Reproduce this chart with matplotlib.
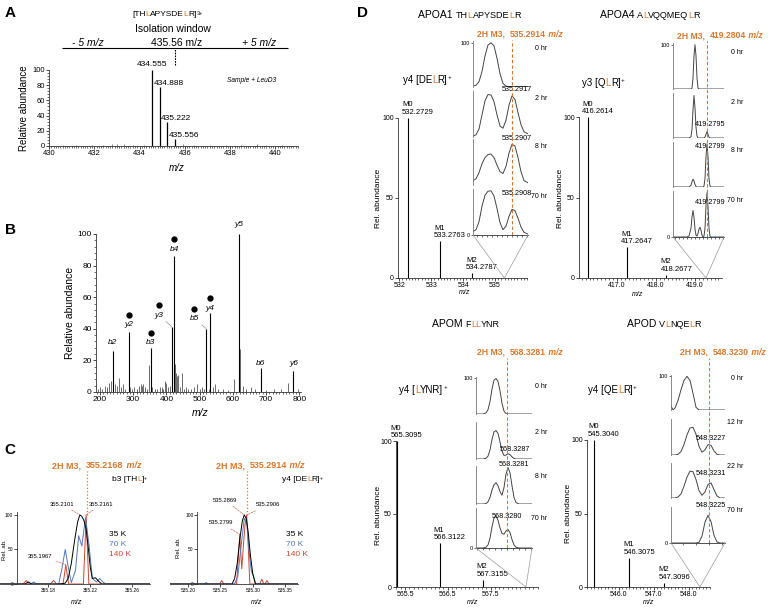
import matplotlib
matplotlib.use('Agg')
import matplotlib.pyplot as plt
from matplotlib.ticker import MultipleLocator, FixedLocator, FormatStrFormatter, NullFormatter
from matplotlib.patches import ConnectionPatch
from matplotlib.transforms import offset_copy, blended_transform_factory

plt.rcParams['font.family'] = ['Liberation Sans', 'DejaVu Sans']
plt.rcParams['axes.linewidth'] = 0.6
plt.rcParams['axes.edgecolor'] = '#333333'

ORANGE = '#d9782d'
BLUE = '#4f78bd'
RED = '#d0452f'
GREY = '#555555'

# ---------------- data ----------------
# A: precursor cluster inside the isolation window
iso_center = 435.56
a_mz = [434.555, 434.888, 435.222, 435.556]
a_int = [100, 78, 32, 9]
a_noise_mz = [430.6, 431.2, 431.9, 432.4, 432.8, 433.0, 433.3, 433.7, 434.2,
              435.9, 436.4, 437.1, 437.8, 438.5, 439.2, 439.6, 440.3]
a_noise_int = [1, 1, 1, 1, 2, 3, 2, 1, 1, 2, 1, 1, 1, 1, 3, 1, 1]

# B: MS/MS spectrum
b_mz = [193, 200, 207, 214, 221, 227, 232, 244, 250, 257,
        262, 269, 276, 291, 296, 302, 311, 318, 322, 326,
        330, 334, 340, 347, 358, 366, 372, 380, 386, 390,
        395, 400, 406, 411, 425, 428, 431, 434, 440, 446,
        452, 460, 466, 474, 482, 491, 500, 506, 514, 527,
        540, 545, 556, 570, 585, 602, 621, 629, 638, 656,
        668, 700, 725, 746, 767, 795]
b_int = [2, 3, 2, 4, 3, 6, 7, 5, 4, 9,
         3, 5, 2, 3, 2, 3, 2, 4, 5, 4,
         5, 3, 2, 17, 3, 2, 2, 3, 3, 2,
         7, 6, 3, 4, 18, 12, 10, 11, 3, 12,
         2, 3, 2, 2, 3, 5, 2, 3, 2, 2,
         3, 5, 2, 2, 1, 8, 27, 4, 2, 3,
         2, 1, 2, 2, 6, 2]
ion_names = ['b2', 'y2', 'b3', 'y3', 'b4', 'b5', 'y4', 'y5', 'b6', 'y6']
ion_mz = [239.1, 288.2, 352.2, 417.2, 423.2, 520.3, 532.3, 619.3, 683.3, 782.4]
ion_int = [26, 38, 28, 41, 86, 40, 50, 100, 15, 13]
ion_dot = [False, True, True, True, True, True, True, False, False, False]

# C: b3 and y4 fragments at three resolutions
res_names = ['35 K', '70 K', '140 K']
c1_m3 = 355.2168
c1_black_x = [355.134, 355.158, 355.161, 355.164, 355.190, 355.196, 355.199, 355.202, 355.205,
              355.208, 355.2101, 355.212, 355.214, 355.216, 355.218, 355.220, 355.222, 355.225,
              355.228, 355.231, 355.277]
c1_black_y = [0, 0, 3, 0, 0, 1, 8, 30, 62, 90, 100, 98, 92, 80, 55, 25, 8, 9, 4, 0, 0]
c1_blue_x = [355.134, 355.163, 355.166, 355.169, 355.190, 355.193, 355.1962, 355.199, 355.202,
             355.206, 355.209, 355.212, 355.2155, 355.219, 355.222, 355.226, 355.229, 355.232,
             355.235, 355.277]
c1_blue_y = [0, 0, 3, 0, 0, 22, 50, 25, 2, 20, 70, 55, 96, 55, 8, 3, 8, 3, 0, 0]
c1_red_x = [355.134, 355.156, 355.159, 355.162, 355.182, 355.185, 355.188, 355.194, 355.1955,
            355.1967, 355.198, 355.1995, 355.2135, 355.215, 355.2161, 355.2172, 355.2187, 355.277]
c1_red_y = [0, 0, 5, 0, 0, 5, 0, 0, 14, 28, 14, 0, 0, 55, 100, 55, 0, 0]
c1_lab_mz = [355.2101, 355.2161, 355.1967]
c1_lab_h = [100, 100, 28]

c2_m3 = 535.2914
c2_black_x = [535.172, 535.268, 535.272, 535.276, 535.280, 535.284, 535.2869, 535.290, 535.293,
              535.296, 535.300, 535.304, 535.370]
c2_black_y = [0, 0, 8, 30, 65, 92, 100, 95, 75, 45, 15, 0, 0]
c2_blue_x = [535.172, 535.225, 535.228, 535.231, 535.272, 535.277, 535.282, 535.2869, 535.291,
             535.295, 535.298, 535.301, 535.305, 535.370]
c2_blue_y = [0, 0, 2, 0, 0, 12, 55, 95, 88, 40, 18, 12, 0, 0]
c2_red_x = [535.172, 535.249, 535.252, 535.255, 535.275, 535.2775, 535.2799, 535.2815, 535.283,
            535.2855, 535.288, 535.2906, 535.293, 535.2955, 535.311, 535.314, 535.317, 535.319,
            535.322, 535.325, 535.370]
c2_red_y = [0, 0, 5, 0, 0, 35, 72, 45, 22, 55, 85, 100, 55, 0, 0, 7, 0, 0, 5, 0, 0]
c2_lab_mz = [535.2869, 535.2906, 535.2799]
c2_lab_h = [100, 100, 72]

# D: four apolipoproteins, isotopes M0-M2 and the 2H M3 time course
a1_mz = [532.2729, 533.2763, 534.2787]
a1_int = [100, 23, 3]
a1_m3 = 535.2914
a1_grid = [-39, -36, -33, -30, -27, -24, -21, -18, -15, -12, -9, -6, -3, 0, 3, 6, 9, 12, 16]
a1_0 = [2, 4, 12, 35, 70, 95, 100, 93, 65, 30, 8, 2, 1, 1, 1, 1, 1, 1, 1]
a1_2 = [2, 5, 18, 50, 82, 96, 95, 80, 50, 25, 20, 38, 72, 93, 85, 55, 28, 12, 7]
a1_8 = [10, 14, 28, 48, 62, 69, 70, 62, 45, 30, 26, 42, 72, 92, 88, 62, 30, 10, 5]
a1_70 = [8, 12, 30, 65, 90, 99, 100, 88, 60, 28, 12, 20, 42, 58, 55, 38, 18, 6, 2]
a1_times = ['0 hr', '2 hr', '8 hr', '70 hr']
a1_peaks = ['535.2917', '535.2907', '535.2908']

a4_mz = [416.2614, 417.2647, 418.2677]
a4_int = [100, 19, 2]
a4_m3 = 419.2804
a4_grid = [-34, -20, -18, -16, -15, -14, -13, -12, -11, -10, -9, -8, -7, -6, -5, -4, -3, -2, -1,
           0, 1, 2, 3, 4, 6, 17]
a4_0 = [0, 0, 0, 0, 2, 25, 75, 100, 75, 25, 2, 0, 0, 0, 0, 0, 0, 0, 0, 0, 0, 0, 0, 0, 0, 0]
a4_2 = [0, 0, 0, 3, 20, 65, 98, 70, 25, 5, 0, 0, 0, 0, 0, 0, 0, 2, 8, 15, 8, 2, 0, 0, 0, 0]
a4_8 = [0, 0, 0, 4, 12, 18, 14, 6, 1, 0, 0, 0, 0, 0, 0, 0, 2, 20, 70, 100, 70, 20, 2, 0, 0, 0]
a4_70 = [0, 0, 2, 20, 45, 60, 45, 18, 4, 2, 8, 18, 22, 15, 4, 0, 2, 20, 70, 100, 70, 20, 2, 0, 0, 0]
a4_times = ['0 hr', '2 hr', '8 hr', '70 hr']
a4_peaks = ['419.2795', '419.2799', '419.2799']

am_mz = [565.3095, 566.3122, 567.3155]
am_int = [100, 30, 5]
am_m3 = 568.3281
am_grid = [-31, -24, -21, -19, -17, -15, -13, -11, -9, -7, -5, -3, -1, 1, 3, 5, 7, 9, 12, 25]
am_0 = [0, 0, 3, 12, 35, 70, 95, 100, 92, 65, 30, 8, 1, 0, 0, 0, 0, 0, 0, 0]
am_2 = [0, 0, 2, 8, 25, 55, 76, 80, 72, 48, 22, 10, 11, 15, 12, 6, 2, 0, 0, 0]
am_8 = [0, 0, 1, 6, 18, 38, 53, 58, 50, 34, 24, 45, 82, 100, 85, 50, 18, 4, 0, 0]
am_70 = [0, 0, 2, 8, 25, 55, 78, 85, 72, 52, 38, 36, 44, 48, 40, 22, 8, 2, 0, 0]
am_times = ['0 hr', '2 hr', '8 hr', '70 hr']
am_peaks = ['568.3287', '568.3281', '568.3280']

ad_mz = [545.3040, 546.3075, 547.3096]
ad_int = [100, 20, 3]
ad_m3 = 548.3230
ad_grid = [-38, -36, -34, -31, -28, -25, -22, -19, -16, -13, -10, -7, -4, -1, 2, 5, 8, 11, 16]
ad_0 = [12, 0, 6, 28, 60, 88, 100, 88, 50, 8, 0, 0, 0, 0, 0, 0, 0, 0, 0]
ad_12 = [0, 0, 0, 2, 10, 30, 58, 78, 80, 60, 25, 8, 15, 30, 28, 12, 2, 0, 0]
ad_22 = [0, 0, 0, 3, 12, 35, 62, 80, 78, 55, 22, 8, 18, 40, 45, 25, 6, 0, 0]
ad_70 = [0, 0, 0, 0, 0, 0, 0, 0, 0, 0, 2, 20, 60, 80, 62, 22, 3, 0, 0]
ad_times = ['0 hr', '12 hr', '22 hr', '70 hr']
ad_peaks = ['548.3227', '548.3231', '548.3225']

# ---------------- figure ----------------
W, H = 768, 609
fig = plt.figure(figsize=(W / 100, H / 100), dpi=100)

bg = fig.add_axes([0, 0, 1, 1], zorder=10)
bg.set_xlim(0, W)
bg.set_ylim(H, 0)
bg.axis('off')
bg.patch.set_visible(False)


def box(x0, y0, x1, y1):
    return [x0 / W, 1 - y1 / H, (x1 - x0) / W, (y1 - y0) / H]


def clean(ax, fs):
    for s in ('top', 'right'):
        ax.spines[s].set_visible(False)
    ax.patch.set_visible(False)
    ax.tick_params(labelsize=fs, length=2, width=0.5, pad=1)
    ax.tick_params(which='minor', length=1.2, width=0.4)


def rich(x, y, parts):
    # chain text pieces left to right, each piece placed after the previous one
    t = None
    for s, c, fs, st in parts:
        kw = dict(color=c, fontsize=fs,
                  fontweight='bold' if 'b' in st else 'normal',
                  fontstyle='italic' if 'i' in st else 'normal')
        if t is None:
            t = bg.text(x, y, s, ha='left', va='baseline', **kw)
        elif st == 's':
            t = bg.annotate(s, xy=(1, 1), xycoords=t, ha='left', va='top', **kw)
        else:
            t = bg.annotate(s, xy=(1, 0), xycoords=t, ha='left', va='bottom', **kw)
    return t


def pep_parts(seq, fs):
    parts = []
    for ch in seq:
        c = ORANGE if ch == 'L' else 'k'
        if parts and parts[-1][1] == c:
            parts[-1] = (parts[-1][0] + ch, c, fs, 'n')
        else:
            parts.append((ch, c, fs, 'n'))
    return parts


def m3_parts(m3, fs):
    return [('2H M3,  ', ORANGE, fs, 'b'), ('%.4f' % m3, ORANGE, fs, 'b'), (' m/z', ORANGE, fs, 'bi')]


for letter, (lx, ly) in zip('ABCD', [(10, 13), (10, 230), (10, 450), (363, 13)]):
    bg.text(lx, ly, letter, fontsize=11, fontweight='bold', ha='center', va='center')

# ---------------- panel A ----------------
axA = fig.add_axes(box(49, 70, 298, 146))
clean(axA, 5.5)
axA.vlines(a_noise_mz, 0, a_noise_int, color=GREY, lw=0.5)
axA.vlines(a_mz, 0, a_int, color='k', lw=0.9)
axA.set_xlim(430, 441)
axA.set_ylim(0, 100)
axA.xaxis.set_major_locator(MultipleLocator(2))
axA.xaxis.set_minor_locator(MultipleLocator(0.1))
axA.yaxis.set_major_locator(MultipleLocator(20))
axA.yaxis.set_minor_locator(MultipleLocator(4))
for i, (m, v) in enumerate(zip(a_mz, a_int)):
    if i == 0:
        axA.annotate('%.3f' % m, xy=(m, v), xytext=(0, 2), textcoords='offset pixels',
                     ha='center', va='bottom', fontsize=6)
    else:
        axA.annotate('%.3f' % m, xy=(m, v), xytext=(-6, 0), textcoords='offset pixels',
                     ha='left', va='bottom', fontsize=6)
axA.hlines(129, iso_center - 5, iso_center + 5, color='k', lw=0.8, clip_on=False)
axA.vlines(iso_center, 106, 129, color='k', lw=0.8, linestyles=(0, (1.5, 1)), clip_on=False)
bg.text(173, 29, 'Isolation window', ha='center', va='center', fontsize=7.5)
bg.text(88, 43, '- 5 m/z', style='italic', ha='center', va='center', fontsize=7.5)
bg.text(177, 43, '%.2f m/z' % iso_center, ha='center', va='center', fontsize=7.5)
bg.text(259, 43, '+ 5 m/z', style='italic', ha='center', va='center', fontsize=7.5)
rich(132, 16, pep_parts('[THLAPYSDELR]', 6) + [('3+', 'k', 4, 's')])
bg.text(252, 80, 'Sample + LeuD3', style='italic', ha='center', va='center', fontsize=4.8)
bg.text(24, 108, 'Relative abundance', rotation=90, ha='center', va='center', fontsize=7)
bg.text(177, 168, 'm/z', style='italic', ha='center', va='center', fontsize=7)

# ---------------- panel B ----------------
axB = fig.add_axes(box(96, 234, 301, 392))
clean(axB, 6)
axB.vlines(b_mz, 0, b_int, color=GREY, lw=0.6)
axB.vlines(ion_mz, 0, ion_int, color='k', lw=0.8)
axB.set_xlim(188, 805)
axB.set_ylim(0, 100)
axB.xaxis.set_major_locator(MultipleLocator(100))
axB.xaxis.set_minor_locator(MultipleLocator(10))
axB.yaxis.set_major_locator(MultipleLocator(20))
axB.yaxis.set_minor_locator(MultipleLocator(4))
lab_off = {'b2': (0, 8), 'y2': (0, 7), 'b3': (0, 5), 'y3': (-13, 12), 'b4': (0, 7),
           'b5': (-12, 10), 'y4': (0, 5), 'y5': (0, 9), 'b6': (0, 5), 'y6': (0, 8)}
for name, m, v, dot in zip(ion_names, ion_mz, ion_int, ion_dot):
    dx, dy = lab_off[name]
    leader = dict(arrowstyle='-', color='#777777', lw=0.4, shrinkA=0, shrinkB=0) if dx else None
    axB.annotate(name, xy=(m, v), xytext=(dx, dy), textcoords='offset pixels', ha='center',
                 va='center', fontsize=6, style='italic', arrowprops=leader)
    if dot:
        tr = offset_copy(axB.transData, fig=fig, x=dx, y=dy + 10, units='dots')
        axB.plot([m], [v], 'o', color='k', ms=3.5, transform=tr, clip_on=False)
bg.text(70, 313, 'Relative abundance', rotation=90, ha='center', va='center', fontsize=7.5)
bg.text(200, 413, 'm/z', style='italic', ha='center', va='center', fontsize=7.5)


# ---------------- panel C ----------------
def c_panel(px, xlim, spine_x, ticks, curves, m3, lab_mz, lab_h, lab_xy, ion, L):
    ax = fig.add_axes(box(*px))
    clean(ax, 3.5)
    ax.tick_params(axis='y', pad=0.5)
    for (x, y), col in zip(curves, [RED, BLUE, 'k']):
        ax.plot(x, y, color=col, lw=0.7)
    ax.set_xlim(*xlim)
    ax.set_ylim(0, 104.3)
    ax.spines['left'].set_position(('data', spine_x))
    ax.set_yticks([0, 50, 100])
    ax.xaxis.set_major_locator(FixedLocator(ticks))
    ax.xaxis.set_major_formatter(FormatStrFormatter('%.2f'))
    ax.vlines(m3, 100, 163, colors=ORANGE, linestyles=':', lw=0.9, clip_on=False)
    for m, h, (tx, ty) in zip(lab_mz, lab_h, lab_xy):
        ax.annotate('%.4f' % m, xy=(m, h), xytext=(tx, H - ty), textcoords='figure pixels',
                    ha='center', va='center', fontsize=4.2,
                    arrowprops=dict(arrowstyle='-', color=RED, lw=0.4, linestyle='--',
                                    shrinkA=1, shrinkB=0))
    rich(L['m3'][0], L['m3'][1], m3_parts(m3, 6.5))
    rich(L['ion'][0], L['ion'][1], pep_parts(ion, 6) + [('+', 'k', 4, 's')])
    for k, (name, col) in enumerate(zip(res_names, ['k', BLUE, RED])):
        bg.text(L['leg'][0], L['leg'][1] + 10 * k, name, color=col, fontsize=6, ha='left',
                va='baseline')
    bg.text(L['ylab'][0], L['ylab'][1], 'Rel. ab.', rotation=90, ha='center', va='center',
            fontsize=4.3)
    bg.text(L['xlab'][0], L['xlab'][1], 'm/z', style='italic', ha='center', va='center',
            fontsize=5)


c_panel((0, 512, 150, 584), (355.134, 355.277), 355.15, [355.18, 355.22, 355.26],
        [(c1_red_x, c1_red_y), (c1_blue_x, c1_blue_y), (c1_black_x, c1_black_y)],
        c1_m3, c1_lab_mz, c1_lab_h, [(62, 504), (101, 504), (40, 556)], 'b3 [THL]',
        dict(m3=(52, 468), ion=(112, 481), leg=(109, 536), ylab=(4, 550), xlab=(77, 603)))
c_panel((170, 512, 298, 584), (535.172, 535.370), 535.214, [535.20, 535.25, 535.30, 535.35],
        [(c2_red_x, c2_red_y), (c2_blue_x, c2_blue_y), (c2_black_x, c2_black_y)],
        c2_m3, c2_lab_mz, c2_lab_h, [(225, 500), (268, 505), (221, 523)], 'y4 [DELR]',
        dict(m3=(216, 468), ion=(282, 481), leg=(286, 536), ylab=(179, 548), xlab=(257, 603)))


# ---------------- panel D ----------------
def d_panel(title, pep, ion, mz, inten, m3, grid, curves, times, plabels, L):
    ax = fig.add_axes(box(*L['main']))
    clean(ax, 5)
    ax.vlines(mz, 0, inten, color='k', lw=0.8)
    ax.set_xlim(*L['xlim'])
    ax.set_ylim(0, 100)
    ax.xaxis.set_major_locator(FixedLocator(L['ticks']))
    ax.xaxis.set_major_formatter(FormatStrFormatter(L['fmt']))
    ax.xaxis.set_minor_locator(MultipleLocator(0.1))
    ax.set_yticks([0, 50, 100])
    for i, (m, v) in enumerate(zip(mz, inten)):
        ax.annotate('M%d\n%.4f' % (i, m), xy=(m, v), xytext=(-6, 2), textcoords='offset pixels',
                    ha='left', va='bottom', fontsize=5.5, linespacing=1.1)
    bg.text(L['ylab'][0], L['ylab'][1], 'Rel. abundance', rotation=90, ha='center',
            va='center', fontsize=6)
    bg.text(L['xlab'][0], L['xlab'][1], 'm/z', style='italic', ha='center', va='center',
            fontsize=5)
    rich(L['title'][0], L['title'][1], [(title + ' ', 'k', 7.5, 'n')] + pep_parts(pep, 6.5))
    rich(L['ion'][0], L['ion'][1], pep_parts(ion, 7) + [('+', 'k', 4.5, 's')])
    rich(L['m3'][0], L['m3'][1], m3_parts(m3, 6.2))

    ix0, ix1 = L['ins_x']
    insets = []
    for k, (ty0, ty1) in enumerate(L['rows']):
        a = fig.add_axes(box(ix0, ty0, ix1, ty1))
        a.plot(grid, curves[k], color='#444444', lw=0.7)
        a.set_xlim(grid[0], grid[-1])
        a.set_ylim(0, 104)
        for s in ('top', 'right'):
            a.spines[s].set_visible(False)
        a.spines['left'].set_color('#777777')
        a.spines['bottom'].set_visible(k == 3)
        a.patch.set_visible(False)
        a.tick_params(labelsize=4, length=1.5, width=0.4, pad=1)
        if k == 0:
            a.set_yticks([100])
        elif k == 3:
            a.set_yticks([0])
        else:
            a.set_yticks([])
        if k == 3:
            a.xaxis.set_major_locator(MultipleLocator(L['tstep']))
            a.xaxis.set_major_formatter(NullFormatter())
        else:
            a.set_xticks([])
        bg.text(ix1 + L['tdx'], ty0 + L['tdy'], times[k], ha='right', va='center', fontsize=5)
        if k > 0:
            tr = blended_transform_factory(a.transData, a.transAxes)
            a.text(L['plx'][k - 1], L['ply'][k - 1], plabels[k - 1], transform=tr,
                   ha='center', va='center', fontsize=5.2, clip_on=False)
        insets.append(a)

    ov = fig.add_axes(box(ix0, L['dash_top'], ix1, L['rows'][3][1]))
    ov.set_xlim(grid[0], grid[-1])
    ov.axvline(0, color=ORANGE, ls=(0, (3, 2)), lw=0.8)
    ov.axis('off')
    ov.patch.set_visible(False)

    for fx in (0, 1):
        con = ConnectionPatch(xyA=(fx, 0), coordsA='axes fraction', axesA=insets[3],
                              xyB=(m3, 0), coordsB='data', axesB=ax, color='#999999', lw=0.5)
        fig.add_artist(con)


d_panel('APOA1', 'THLAPYSDELR', 'y4 [DELR]', a1_mz, a1_int, a1_m3, a1_grid,
        [a1_0, a1_2, a1_8, a1_70], a1_times, a1_peaks,
        dict(main=(398, 118, 527, 278), xlim=(531.96, 536.0), ticks=[532, 533, 534, 535],
             fmt='%d', ylab=(378, 198), xlab=(465, 293), title=(418, 18), ion=(403, 83),
             m3=(477, 37), ins_x=(473, 528),
             rows=[(41, 87), (91, 137), (139, 185), (189, 235)], dash_top=40,
             tdx=19, tdy=7, tstep=5, plx=[5, 5, 5], ply=[1.04, 1.02, 0.91]))
d_panel('APOA4', 'ALVQQMEQLR', 'y3 [QLR]', a4_mz, a4_int, a4_m3, a4_grid,
        [a4_0, a4_2, a4_8, a4_70], a4_times, a4_peaks,
        dict(main=(579, 117, 722, 278), xlim=(416.03, 419.69), ticks=[416, 417, 418, 419],
             fmt='%.1f', ylab=(560, 198), xlab=(638, 295), title=(600, 18), ion=(582, 86),
             m3=(677, 38), ins_x=(673, 724),
             rows=[(43, 89), (93, 138), (142, 187), (191, 237)], dash_top=41,
             tdx=19, tdy=9, tstep=4, plx=[3, 3, 3], ply=[0.29, 0.91, 0.76]))
d_panel('APOM', 'FLLYNR', 'y4 [LYNR]', am_mz, am_int, am_m3, am_grid,
        [am_0, am_2, am_8, am_70], am_times, am_peaks,
        dict(main=(396, 441, 538, 587), xlim=(565.29, 568.61), ticks=[565.5, 566.5, 567.5],
             fmt='%.1f', ylab=(378, 515), xlab=(473, 602), title=(432, 327), ion=(399, 393),
             m3=(477, 355), ins_x=(476, 532),
             rows=[(377, 414), (422, 459), (466, 504), (508, 548)], dash_top=358,
             tdx=15, tdy=10, tstep=6, plx=[8, 7, 0], ply=[0.27, 1.05, 0.78]))
d_panel('APOD', 'VLNQELR', 'y4 [QELR]', ad_mz, ad_int, ad_m3, ad_grid,
        [ad_0, ad_12, ad_22, ad_70], ad_times, ad_peaks,
        dict(main=(587, 440, 710, 587), xlim=(545.10, 548.61), ticks=[545, 546, 547, 548],
             fmt='%.1f', ylab=(568, 513), xlab=(649, 602), title=(627, 327), ion=(588, 393),
             m3=(680, 355), ins_x=(671, 725),
             rows=[(375, 410), (419, 455), (463, 498), (507, 543)], dash_top=358,
             tdx=18, tdy=3, tstep=13, plx=[2, 2, 2], ply=[0.47, 0.71, 1.03]))

fig.savefig('out.png', dpi=100)
